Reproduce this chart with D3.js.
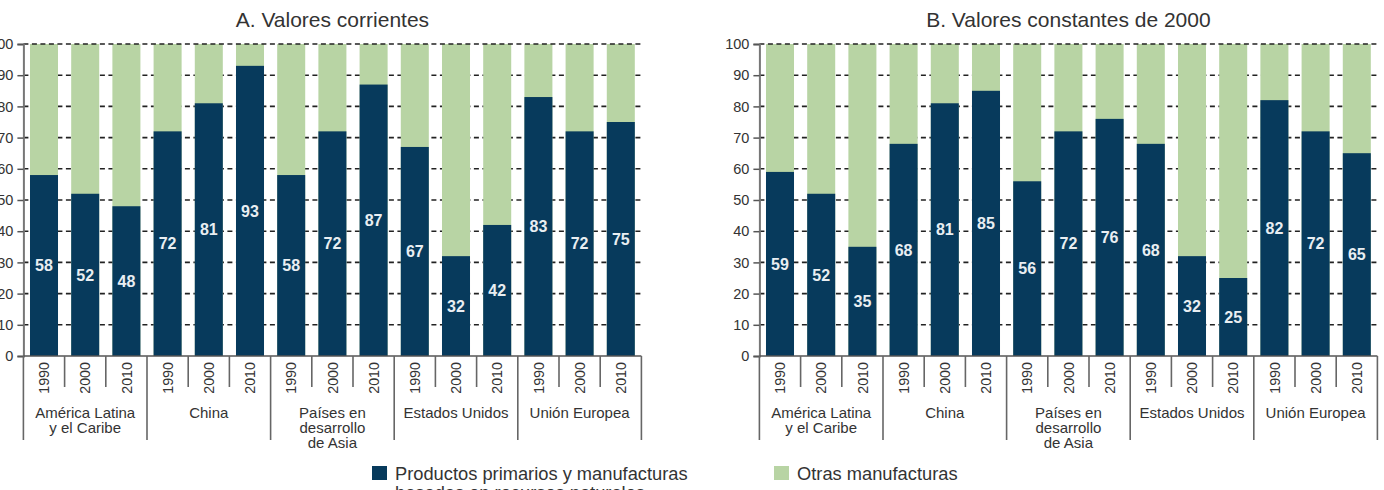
<!DOCTYPE html>
<html>
<head>
<meta charset="utf-8">
<script src="https://cdn.jsdelivr.net/npm/d3@7"></script>
<style>
  html, body { margin: 0; padding: 0; background: #fff; }
  svg { display: block; font-family: "Liberation Sans", Arial, sans-serif; }
</style>
</head>
<body>
<svg id="chart" width="1384" height="490"></svg>
<script>
// ---- data ----
const groups = [
  ["América Latina", "y el Caribe"],
  ["China"],
  ["Países en", "desarrollo", "de Asia"],
  ["Estados Unidos"],
  ["Unión Europea"]
];
const years = ["1990", "2000", "2010"];
const valuesA = [58, 52, 48, 72, 81, 93, 58, 72, 87, 67, 32, 42, 83, 72, 75];
const valuesB = [59, 52, 35, 68, 81, 85, 56, 72, 76, 68, 32, 25, 82, 72, 65];
const yTicks = [0, 10, 20, 30, 40, 50, 60, 70, 80, 90, 100];
const titles = ["A. Valores corrientes", "B. Valores constantes de 2000"];
const seriesNames = [["Productos primarios y manufacturas", "basadas en recursos naturales"], ["Otras manufacturas"]];

const colNavy = "#073a5c";
const colGreen = "#b8d4a4";
const textCol = "#333";

const svg = d3.select("#chart");
const keys = [];
groups.forEach((g, gi) => years.forEach(y => keys.push(gi + "|" + y)));

const panels = [
  { values: valuesA, x0: 23.4, x1: 641.4, title: titles[0] },
  { values: valuesB, x0: 759.4, x1: 1377.4, title: titles[1] }
];

const y = d3.scaleLinear().domain([0, 100]).range([356, 44]);

panels.forEach(p => {
  const x = d3.scaleBand().domain(keys).range([p.x0, p.x1]).paddingInner(0.32).paddingOuter(0.16);
  const step = x.step();
  const gap = step - x.bandwidth();
  const g = svg.append("g");

  // title
  g.append("text")
    .attr("x", (p.x0 + p.x1) / 2).attr("y", 27)
    .attr("text-anchor", "middle").attr("font-size", 21).attr("fill", textCol)
    .text(p.title);

  // dashed grid (behind)
  g.selectAll(".grid").data(yTicks.filter(t => t > 0 && t < 100)).join("line")
    .attr("x1", p.x0).attr("x2", p.x1)
    .attr("y1", d => y(d)).attr("y2", d => y(d))
    .attr("stroke", "#222").attr("stroke-width", 1.6).attr("stroke-dasharray", "5,3.5");

  // bars
  const bars = g.selectAll(".bar").data(keys).join("g");
  bars.append("rect")
    .attr("x", d => x(d)).attr("width", x.bandwidth())
    .attr("y", y(100)).attr("height", y(0) - y(100))
    .attr("fill", colGreen);
  bars.append("rect")
    .attr("x", d => x(d)).attr("width", x.bandwidth())
    .attr("y", (d, i) => y(p.values[i])).attr("height", (d, i) => y(0) - y(p.values[i]))
    .attr("fill", colNavy);
  bars.append("text")
    .attr("x", d => x(d) + x.bandwidth() / 2)
    .attr("y", (d, i) => y(p.values[i] / 2))
    .attr("dy", "0.36em")
    .attr("text-anchor", "middle").attr("font-size", 16).attr("font-weight", "bold")
    .attr("fill", "#e9eef2")
    .text((d, i) => p.values[i]);

  // top dashed line at 100 (on top)
  g.append("line")
    .attr("x1", p.x0).attr("x2", p.x1).attr("y1", y(100)).attr("y2", y(100))
    .attr("stroke", "#222").attr("stroke-width", 1.6).attr("stroke-dasharray", "5,3.5");

  // y axis
  const yAxis = d3.axisLeft(y).tickValues(yTicks).tickSize(6).tickPadding(4).tickFormat(d3.format("d"));
  const ya = g.append("g").attr("transform", `translate(${p.x0},0)`).call(yAxis);
  ya.select(".domain").attr("stroke", "#777").attr("stroke-width", 2);
  ya.selectAll(".tick line").attr("stroke", "#555").attr("stroke-width", 1.5);
  ya.selectAll(".tick text").attr("font-size", 14.5).attr("fill", textCol)
    .attr("font-family", "'Liberation Sans', Arial, sans-serif");

  // x baseline
  g.append("line").attr("x1", p.x0).attr("x2", p.x1).attr("y1", y(0)).attr("y2", y(0))
    .attr("stroke", "#555").attr("stroke-width", 1.6);

  // separators
  const bounds = keys.map(k => x(k) - gap / 2);
  bounds.push(x(keys[keys.length - 1]) + x.bandwidth() + gap / 2);
  g.selectAll(".sep").data(bounds).join("line")
    .attr("x1", d => d).attr("x2", d => d)
    .attr("y1", y(0))
    .attr("y2", (d, i) => (i % 3 === 0) ? 440 : 387)
    .attr("stroke", "#666").attr("stroke-width", 1.6);

  // year labels
  g.selectAll(".yr").data(keys).join("text")
    .attr("transform", d => `translate(${x(d) + x.bandwidth() / 2},362) rotate(-90)`)
    .attr("text-anchor", "end").attr("dy", "0.36em")
    .attr("font-size", 14.3).attr("fill", textCol)
    .text(d => d.split("|")[1]);

  // group labels
  groups.forEach((lines, gi) => {
    const left = x(gi + "|" + years[0]);
    const right = x(gi + "|" + years[2]) + x.bandwidth();
    const t = g.append("text").attr("text-anchor", "middle").attr("font-size", 15).attr("fill", textCol);
    lines.forEach((ln, li) => {
      t.append("tspan").attr("x", (left + right) / 2).attr("y", 418 + li * 15).text(ln);
    });
  });
});

// legend
const legend = [
  { color: colNavy, x: 372, lines: seriesNames[0] },
  { color: colGreen, x: 774, lines: seriesNames[1] }
];
legend.forEach(l => {
  svg.append("rect").attr("x", l.x).attr("y", 466).attr("width", 15).attr("height", 14).attr("fill", l.color);
  const t = svg.append("text").attr("font-size", 18.3).attr("fill", textCol);
  l.lines.forEach((ln, li) => {
    t.append("tspan").attr("x", l.x + 23).attr("y", 480 + li * 19).text(ln);
  });
});
</script>
</body>
</html>
